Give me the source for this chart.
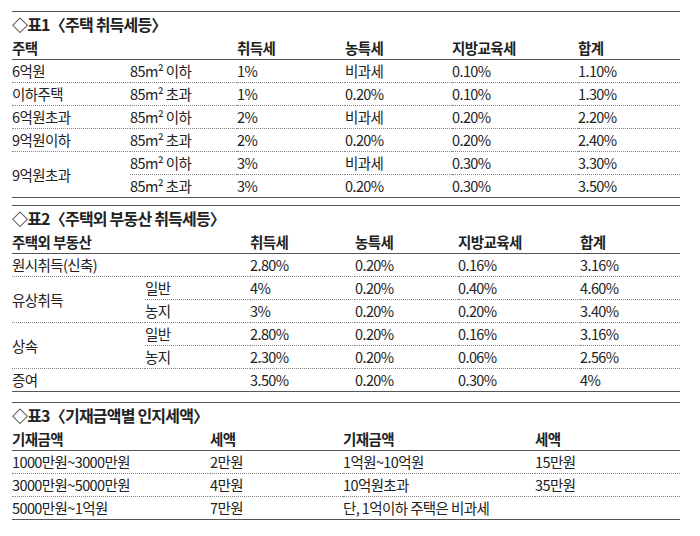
<!DOCTYPE html>
<html><head><meta charset="utf-8">
<script src="https://cdn.jsdelivr.net/npm/chart.js@4"></script>
<style>
body{margin:0;background:#fff;font-family:"Noto Sans CJK KR",sans-serif;color:#222;}
.box{position:absolute;left:12px;width:668px;border-top:1.5px solid #555;border-bottom:1.5px solid #555;}
.ttl{font-weight:bold;font-size:16px;height:24px;line-height:24px;letter-spacing:-0.8px}
table{border-collapse:collapse;width:100%;table-layout:fixed;font-size:14.5px;letter-spacing:-0.6px}
td{padding:0;height:22px;line-height:22px;border-top:1px dotted #888;white-space:nowrap}
tr.h td{font-weight:bold;border-top:none;border-bottom:1.5px solid #555;height:23px}
tr.h + tr td{border-top:none}
</style></head><body>
<div id="root"></div>
<script>
const t1Title = "◇표1〈주택 취득세등〉"
const t1Head = ["주택", "", "취득세", "농특세", "지방교육세", "합계"]
const t1Rows = [
  ["6억원", "85m² 이하", "1%", "비과세", "0.10%", "1.10%"],
  ["이하주택", "85m² 초과", "1%", "0.20%", "0.10%", "1.30%"],
  ["6억원초과", "85m² 이하", "2%", "비과세", "0.20%", "2.20%"],
  ["9억원이하", "85m² 초과", "2%", "0.20%", "0.20%", "2.40%"],
  ["9억원초과", "85m² 이하", "3%", "비과세", "0.30%", "3.30%"],
  [null, "85m² 초과", "3%", "0.20%", "0.30%", "3.50%"]
]
const t1Cols = [118, 107, 108, 107, 126, 102]

const t2Title = "◇표2〈주택외 부동산 취득세등〉"
const t2Head = ["주택외 부동산", "", "취득세", "농특세", "지방교육세", "합계"]
const t2Rows = [
  ["원시취득(신축)", "", "2.80%", "0.20%", "0.16%", "3.16%"],
  ["유상취득", "일반", "4%", "0.20%", "0.40%", "4.60%"],
  [null, "농지", "3%", "0.20%", "0.20%", "3.40%"],
  ["상속", "일반", "2.80%", "0.20%", "0.16%", "3.16%"],
  [null, "농지", "2.30%", "0.20%", "0.06%", "2.56%"],
  ["증여", "", "3.50%", "0.20%", "0.30%", "4%"]
]
const t2Cols = [133, 105, 105, 103, 122, 100]

const t3Title = "◇표3〈기재금액별 인지세액〉"
const t3Head = ["기재금액", "세액", "기재금액", "세액"]
const t3Rows = [
  ["1000만원~3000만원", "2만원", "1억원~10억원", "15만원"],
  ["3000만원~5000만원", "4만원", "10억원초과", "35만원"],
  ["5000만원~1억원", "7만원", "단, 1억이하 주택은 비과세", ""]
]
const t3Cols = [198, 133, 192, 145]

function build(top, title, head, rows, cols) {
  const box = document.createElement("div")
  box.className = "box"
  box.style.top = top + "px"
  let h = `<div class="ttl">${title}</div><table><colgroup>`
  cols.forEach(w => h += `<col style="width:${w}px">`)
  h += `</colgroup><tr class="h">` + head.map(c => `<td>${c}</td>`).join("") + "</tr>"
  rows.forEach((r, i) => {
    h += "<tr>"
    r.forEach((c, j) => {
      if (c === null) return
      const span = j === 0 && rows[i + 1] && rows[i + 1][0] === null ? ' rowspan="2"' : ""
      h += `<td${span}>${c}</td>`
    })
    h += "</tr>"
  })
  box.innerHTML = h + "</table>"
  document.getElementById("root").appendChild(box)
}

build(11, t1Title, t1Head, t1Rows, t1Cols)
build(205, t2Title, t2Head, t2Rows, t2Cols)
build(402, t3Title, t3Head, t3Rows, t3Cols)
</script>
</body></html>
